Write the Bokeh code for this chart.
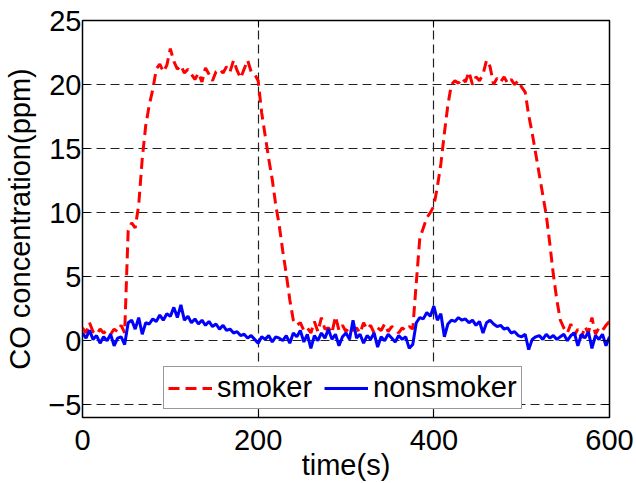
from bokeh.plotting import figure
from bokeh.models import Range1d, FixedTicker, LinearAxis, Legend, LegendItem
from bokeh.embed import file_html
from bokeh.resources import INLINE
import numpy as np

# sample interval 4 s
t_step = 4
smoker = [1.0, 0.6, 1.4, 0.7, 0.5, 0.9, 0.6, 0.8, 0.5, 0.9, 0.7, 1.2, 0.6,
          8.6, 9.2, 8.8, 10.6, 14.2, 16.8, 18.4, 19.6, 21.2, 21.6, 21.0, 21.5,
          22.8, 21.8, 21.2, 21.5, 20.9, 21.2, 20.8, 20.4, 20.9, 20.2, 21.3, 20.8,
          20.3, 21.0, 21.2, 20.9, 21.4, 21.0, 21.9, 21.1, 20.5, 21.2, 21.9, 21.0,
          20.8, 20.3, 17.8, 16.0, 14.2, 12.6, 10.6, 9.0, 7.0, 5.2, 3.2, 1.6,
          1.2, 1.4, 0.8, 1.0, 0.6, 1.5, 0.7, 1.8, 0.9, 1.0, 0.6, 1.9, 0.8, 1.2,
          0.7, 1.1, 0.8, 1.0, 0.6, 1.4, 0.9, 1.2, 0.6, 1.0, 0.8, 1.3, 0.7, 1.1,
          0.9, 0.6, 1.0, 0.8, 1.1, 0.9, 4.5, 8.0, 8.8, 9.6, 10.0, 10.5, 12.0,
          13.8, 16.2, 18.4, 20.0, 20.3, 20.1, 20.5, 20.2, 21.0, 20.0, 20.6, 20.3,
          20.8, 21.9, 21.4, 20.0, 20.5, 20.2, 20.6, 20.1, 20.4, 20.0, 20.3, 19.8,
          19.4, 17.6, 16.2, 14.6, 13.0, 11.4, 9.8, 7.6, 5.2, 3.2, 1.6, 1.0, 0.6,
          1.3, 0.4, 0.9, 0.2, 1.1, 0.6, 1.8, 0.5, 1.0, 0.8, 1.2, 1.5]
nonsmoker = [0.6, 0.2, 0.8, 0.1, 0.4, -0.2, 0.3, 0.0, 0.5, -0.4, 0.2, 0.3, -0.3,
             1.4, 1.6, 0.9, 1.8, 0.5, 1.4, 1.3, 1.7, 1.5, 2.0, 1.6, 2.1, 1.9,
             2.6, 1.8, 2.8, 1.6, 1.9, 1.4, 1.7, 1.3, 1.6, 1.2, 1.5, 1.1, 1.3,
             0.9, 1.2, 0.8, 0.9, 0.6, 0.7, 0.4, 0.5, 0.2, 0.4, 0.1, -0.2, 0.3,
             0.1, 0.4, -0.1, 0.3, 0.2, 0.0, 0.4, -0.2, 0.6, 0.3, 0.8, -0.1, 0.5,
             -0.6, 0.4, 0.0, 0.6, 0.2, 0.9, 0.1, 0.5, -0.4, 0.3, 0.6, 0.1, 1.6,
             0.2, 0.5, -0.2, 0.4, 0.1, 0.6, -0.5, 0.3, 0.0, 0.5, 0.2, -0.1, 0.4,
             0.1, 0.3, -0.6, -0.3, 1.4, 1.8, 1.7, 2.2, 1.9, 2.7, 1.6, 2.1, 0.3,
             1.3, 1.6, 1.5, 1.8, 1.6, 1.7, 1.4, 1.6, 1.2, 1.5, 0.6, 1.4, 1.6,
             1.3, 1.1, 1.2, 0.9, 1.0, 0.6, 0.7, 0.4, 0.3, 0.5, -0.7, 0.1, 0.3,
             0.4, 0.1, 0.5, 0.2, 0.4, 0.1, 0.3, 0.5, 0.0, 0.4, 0.6, -0.4, 0.5,
             0.2, 0.7, -0.6, 0.4, 0.1, 0.5, -0.4, 0.3]
x_ticks = [0, 200, 400, 600]
y_ticks = [-5, 0, 5, 10, 15, 20, 25]
y_tick_labels = {-5: "\u22125", 0: "0", 5: "5", 10: "10", 15: "15", 20: "20", 25: "25"}
x_title = "time(s)"
y_title = "CO concentration(ppm)"

t_s = np.arange(len(smoker)) * t_step
t_n = np.arange(len(nonsmoker)) * t_step

FONT = "Liberation Sans"
FS = "29px"

p = figure(width=636, height=483, output_backend="svg", toolbar_location=None,
           x_range=Range1d(0, 600), y_range=Range1d(-6, 25),
           min_border_left=82, min_border_right=27, min_border_top=20,
           min_border_bottom=65, x_axis_label=x_title, y_axis_label=y_title)
p.background_fill_color = "white"
p.border_fill_color = "white"
p.outline_line_color = "black"
p.outline_line_width = 1.5

for ax in (p.xaxis[0], p.yaxis[0]):
    ax.major_label_text_font = FONT
    ax.major_label_text_font_size = FS
    ax.axis_label_text_font = FONT
    ax.axis_label_text_font_size = FS
    ax.axis_label_text_font_style = "normal"
    ax.major_tick_in = 7
    ax.major_tick_out = 0
    ax.minor_tick_in = 0
    ax.minor_tick_out = 0
    ax.axis_line_color = "black"
    ax.major_tick_line_color = "black"
    ax.major_label_text_color = "black"
    ax.axis_label_text_color = "black"
p.xaxis[0].ticker = FixedTicker(ticks=x_ticks)
p.yaxis[0].ticker = FixedTicker(ticks=y_ticks)
p.yaxis[0].major_label_overrides = y_tick_labels
p.xaxis[0].major_label_standoff = 12
p.xaxis[0].axis_label_standoff = -4
p.yaxis[0].major_label_standoff = 1
p.yaxis[0].axis_label_standoff = 9

for loc, ticks in (("right", y_ticks), ("above", x_ticks)):
    ax = LinearAxis(ticker=FixedTicker(ticks=ticks), major_label_text_font_size="0px",
                    major_tick_in=7, major_tick_out=0, minor_tick_in=0, minor_tick_out=0,
                    major_label_standoff=0, axis_line_color="black",
                    major_tick_line_color="black")
    ax.major_label_overrides = {v: "" for v in ticks}
    p.add_layout(ax, loc)

p.xgrid.ticker = FixedTicker(ticks=x_ticks)
p.ygrid.ticker = FixedTicker(ticks=y_ticks)
for g in (p.xgrid[0], p.ygrid[0]):
    g.grid_line_color = "#222222"
    g.grid_line_dash = "9 5"
    g.grid_line_width = 1.2

r1 = p.line(t_s, smoker, line_color="#ff0000", line_width=3, line_dash="11 6")
r2 = p.line(t_n, nonsmoker, line_color="#0000ff", line_width=3)

legend = Legend(items=[LegendItem(label="smoker", renderers=[r1]),
                       LegendItem(label="nonsmoker", renderers=[r2])],
                orientation="horizontal", location=(81, 8))
legend.label_text_font = FONT
legend.label_text_font_size = FS
legend.label_text_color = "black"
legend.glyph_width = 44
legend.label_standoff = 5
legend.spacing = 12
legend.padding = 4
legend.margin = 0
legend.border_line_color = "#333333"
legend.border_line_width = 1
legend.background_fill_alpha = 1
p.add_layout(legend, "center")

open("out.html", "w").write(file_html(p, INLINE))
